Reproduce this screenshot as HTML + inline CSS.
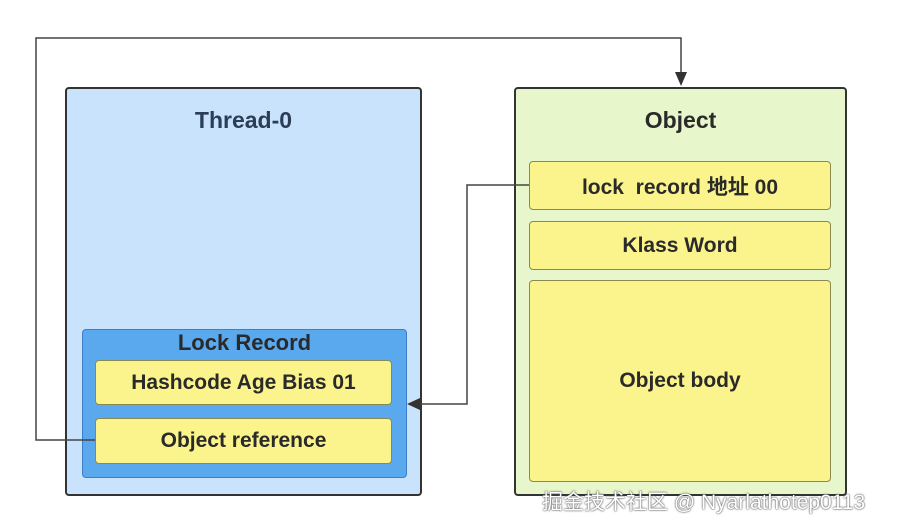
<!DOCTYPE html>
<html><head><meta charset="utf-8"><style>
body{margin:0;width:917px;height:531px;background:#fff;position:relative;overflow:hidden;font-family:"Liberation Sans","Noto Sans CJK SC",sans-serif;font-weight:bold;color:#2a2a2a}
.b{position:absolute;box-sizing:border-box;display:flex;align-items:center;justify-content:center;font-size:21px}
.y{background:#fbf48c;border:1.5px solid #8a8a50;border-radius:4px}
</style></head><body>
<div class="b" style="left:65px;top:87px;width:357px;height:409px;background:#c8e3fb;border:2.5px solid #333;border-radius:4px;align-items:flex-start;padding-top:18px;color:#2b3e55;font-size:23px">Thread-0</div>
<div class="b" style="left:514px;top:87px;width:333px;height:409px;background:#e7f7cb;border:2.5px solid #333;border-radius:4px;align-items:flex-start;padding-top:18px;font-size:23px">Object</div>
<div class="b" style="left:82px;top:329px;width:325px;height:149px;background:#5aa8ee;border:1.5px solid #3a7fc8;border-radius:4px;align-items:flex-start;padding-top:0px;font-size:22px">Lock Record</div>
<div class="b y" style="left:95px;top:360px;width:297px;height:45px">Hashcode Age Bias 01</div>
<div class="b y" style="left:95px;top:418px;width:297px;height:46px">Object reference</div>
<div class="b y" style="left:529px;top:161px;width:302px;height:49px">lock&nbsp; record 地址 00</div>
<div class="b y" style="left:529px;top:221px;width:302px;height:49px">Klass Word</div>
<div class="b y" style="left:529px;top:280px;width:302px;height:202px">Object body</div>
<svg width="917" height="531" style="position:absolute;left:0;top:0">
<polyline points="95,440 36,440 36,38 681,38 681,76" fill="none" stroke="#444" stroke-width="1.5"/>
<polygon points="675,72 687,72 681,86" fill="#333"/>
<polyline points="529,185 467,185 467,404 418,404" fill="none" stroke="#444" stroke-width="1.5"/>
<polygon points="420,398 420,410 407,404" fill="#333"/>
</svg>
<div style="position:absolute;left:542px;top:486px;font-size:21px;font-weight:normal;color:#fff;text-shadow:0 0 2px #555,0 0 1px #333">掘金技术社区 @ Nyarlathotep0113</div>
</body></html>
